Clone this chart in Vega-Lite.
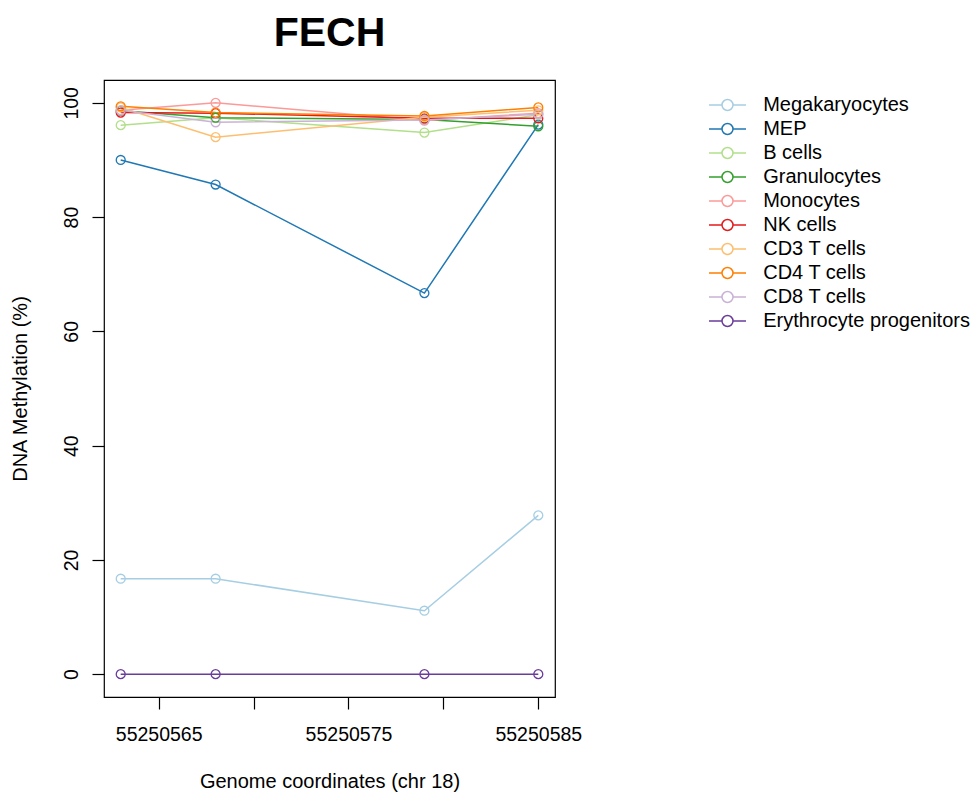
{
  "$schema": "https://vega.github.io/schema/vega-lite/v6.json",
  "width": 451,
  "height": 617,
  "autosize": "none",
  "padding": {"left": 104, "top": 80, "right": 416, "bottom": 97},
  "background": "white",
  "config": {
    "font": "Liberation Sans",
    "view": {"stroke": "black", "strokeWidth": 1.2},
    "axis": {"grid": false, "domain": false, "tickColor": "black", "tickWidth": 1.2, "tickSize": 12, "labelFont": "Liberation Sans", "titleFont": "Liberation Sans", "labelFontSize": 19.5, "titleFontSize": 20, "labelColor": "black", "titleColor": "black", "titleFontWeight": "normal"}
  },
  "title": {"text": "FECH", "fontSize": 41, "fontWeight": "bold", "font": "Liberation Sans", "anchor": "middle", "baseline": "alphabetic", "offset": 33, "dy": 40, "color": "black"},
  "data": {"values": [
    {"series": "Megakaryocytes", "pos": 55250563, "value": 16.7},
    {"series": "Megakaryocytes", "pos": 55250568, "value": 16.7},
    {"series": "Megakaryocytes", "pos": 55250579, "value": 11.1},
    {"series": "Megakaryocytes", "pos": 55250585, "value": 27.8},
    {"series": "MEP", "pos": 55250563, "value": 90.0},
    {"series": "MEP", "pos": 55250568, "value": 85.7},
    {"series": "MEP", "pos": 55250579, "value": 66.7},
    {"series": "MEP", "pos": 55250585, "value": 96.2},
    {"series": "B cells", "pos": 55250563, "value": 96.1},
    {"series": "B cells", "pos": 55250568, "value": 97.4},
    {"series": "B cells", "pos": 55250579, "value": 94.8},
    {"series": "B cells", "pos": 55250585, "value": 97.9},
    {"series": "Granulocytes", "pos": 55250563, "value": 98.6},
    {"series": "Granulocytes", "pos": 55250568, "value": 97.4},
    {"series": "Granulocytes", "pos": 55250579, "value": 97.1},
    {"series": "Granulocytes", "pos": 55250585, "value": 95.9},
    {"series": "Monocytes", "pos": 55250563, "value": 98.7},
    {"series": "Monocytes", "pos": 55250568, "value": 100.0},
    {"series": "Monocytes", "pos": 55250579, "value": 96.9},
    {"series": "Monocytes", "pos": 55250585, "value": 98.2},
    {"series": "NK cells", "pos": 55250563, "value": 98.3},
    {"series": "NK cells", "pos": 55250568, "value": 98.2},
    {"series": "NK cells", "pos": 55250579, "value": 97.3},
    {"series": "NK cells", "pos": 55250585, "value": 97.3},
    {"series": "CD3 T cells", "pos": 55250563, "value": 99.2},
    {"series": "CD3 T cells", "pos": 55250568, "value": 94.0},
    {"series": "CD3 T cells", "pos": 55250579, "value": 97.5},
    {"series": "CD3 T cells", "pos": 55250585, "value": 98.7},
    {"series": "CD4 T cells", "pos": 55250563, "value": 99.4},
    {"series": "CD4 T cells", "pos": 55250568, "value": 98.3},
    {"series": "CD4 T cells", "pos": 55250579, "value": 97.7},
    {"series": "CD4 T cells", "pos": 55250585, "value": 99.2},
    {"series": "CD8 T cells", "pos": 55250563, "value": 98.7},
    {"series": "CD8 T cells", "pos": 55250568, "value": 96.6},
    {"series": "CD8 T cells", "pos": 55250579, "value": 97.0},
    {"series": "CD8 T cells", "pos": 55250585, "value": 98.0},
    {"series": "Erythrocyte progenitors", "pos": 55250563, "value": 0},
    {"series": "Erythrocyte progenitors", "pos": 55250568, "value": 0},
    {"series": "Erythrocyte progenitors", "pos": 55250579, "value": 0},
    {"series": "Erythrocyte progenitors", "pos": 55250585, "value": 0}
  ]},
  "encoding": {
    "x": {"field": "pos", "type": "quantitative",
      "scale": {"domain": [55250562.12, 55250585.88], "nice": false, "zero": false},
      "axis": {"values": [55250565, 55250570, 55250575, 55250580, 55250585], "format": "d",
        "labelExpr": "datum.value % 10 == 5 ? datum.label : ''",
        "labelPadding": 16, "labelBaseline": "top", "labelFlush": false, "labelOverlap": false,
        "title": "Genome coordinates (chr 18)", "titleY": 90, "titleBaseline": "alphabetic"}},
    "y": {"field": "value", "type": "quantitative",
      "scale": {"domain": [-4, 104], "nice": false, "zero": false},
      "axis": {"values": [0, 20, 40, 60, 80, 100], "labelAngle": 270, "labelAlign": "center", "labelBaseline": "alphabetic", "labelPadding": 15,
        "title": "DNA Methylation (%)", "titleX": -84, "titleY": 308.5, "titleAngle": 270, "titleAlign": "center", "titleBaseline": "middle"}},
    "color": {"field": "series", "type": "nominal",
      "scale": {"domain": ["Megakaryocytes", "MEP", "B cells", "Granulocytes", "Monocytes", "NK cells", "CD3 T cells", "CD4 T cells", "CD8 T cells", "Erythrocyte progenitors"],
        "range": ["#A6CEE3", "#1F78B4", "#B2DF8A", "#33A02C", "#FB9A99", "#E31A1C", "#FDBF6F", "#FF7F00", "#CAB2D6", "#6A3D9A"]},
      "legend": {"orient": "none", "legendX": 613.5, "legendY": 15, "title": null, "padding": 0,
        "symbolType": "M-3.7,0L-1.1,0M1.1,0L3.7,0M-1.1,0A1.1,1.1,0,1,0,1.1,0A1.1,1.1,0,1,0,-1.1,0",
        "symbolSize": 100, "symbolStrokeWidth": 1.5, "symbolFillColor": "transparent",
        "labelFontSize": 20, "labelFont": "Liberation Sans", "labelColor": "black", "labelOffset": 25.7, "rowPadding": 4, "labelLimit": 400}}
  },
  "layer": [
    {"mark": {"type": "line", "strokeWidth": 1.5}},
    {"mark": {"type": "point", "shape": "circle", "filled": false, "size": 80, "strokeWidth": 1.3, "opacity": 1}}
  ]
}
